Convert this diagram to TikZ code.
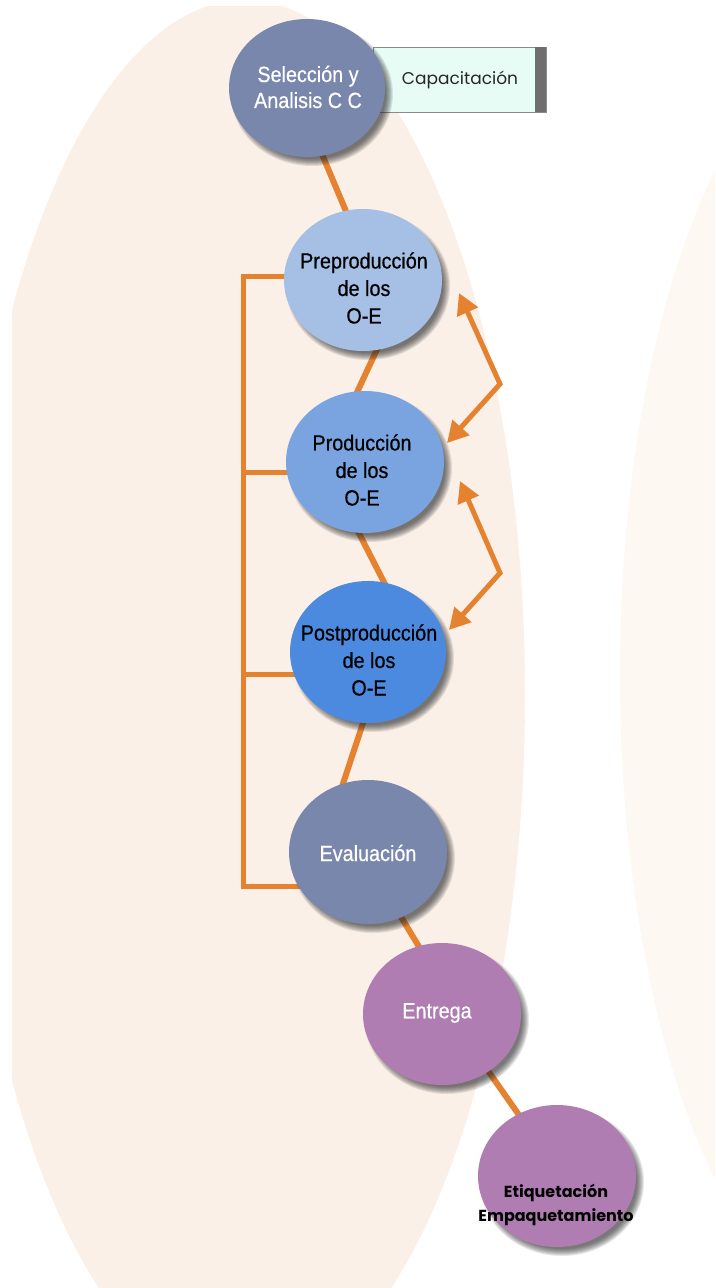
\documentclass[tikz,border=0pt]{standalone}
\usepackage{fontspec}
\setmainfont{Liberation Sans}
\newfontfamily\nodefont[FakeStretch=0.9,FakeBold=0.5]{Liberation Sans}
\newfontfamily\gothic{Poppins}
\usetikzlibrary{shapes.geometric,arrows.meta}
\pgfdeclarelayer{bg}
\pgfdeclarelayer{links}
\pgfdeclarelayer{shade}
\pgfsetlayers{bg,links,shade,main}
\definecolor{peach}{HTML}{FBF0E8}
\definecolor{peachB}{HTML}{FEF8F3}
\definecolor{slate}{HTML}{7A87AD}
\definecolor{preC}{HTML}{A6BFE5}
\definecolor{prodC}{HTML}{79A4E0}
\definecolor{postC}{HTML}{4C8AE0}
\definecolor{purp}{HTML}{AF7DB1}
\definecolor{orng}{HTML}{E5822F}
\definecolor{capfill}{HTML}{E8FCF6}
\definecolor{capline}{HTML}{8A8A8A}
\definecolor{capbar}{HTML}{6E6E6E}
\tikzset{
  bub/.style={ellipse, inner sep=0pt, minimum width=158pt, minimum height=142pt},
  txt/.style={align=center, inner sep=0pt, font=\nodefont\fontsize{22}{27.5}\selectfont},
  link/.style={draw=orng, line width=6pt, shorten <=-8pt, shorten >=-8pt},
  brk/.style={draw=orng, line width=5pt, line join=miter},
  darr/.style={draw=orng, line width=5pt, line join=miter,
    {Triangle[length=21pt,width=22pt]}-{Triangle[length=21pt,width=22pt]}},
  shd/.style={fill=black!85, opacity=0.11}
}
\newcommand\dropsh[3]{%
  \foreach \k in {-4,...,3}{%
    \fill[shd] ([shift={(5pt,-6pt)}]#1.center) ellipse [x radius=#2+\k, y radius=#3+\k];
  }%
}
\begin{document}
\begin{tikzpicture}[x=1pt,y=-1pt]
\useasboundingbox (0,0) rectangle (715,1288);
\begin{pgfonlayer}{bg}
  \fill[white] (0,0) rectangle (715,1288);
  \begin{scope}
    \clip (12,6) rectangle (715,1288);
    \fill[peach] (245,695) ellipse [x radius=280, y radius=695];
  \end{scope}
  \begin{scope}
    \clip (0,0) rectangle (715,1288);
    \fill[peachB] (870,675) ellipse [x radius=250, y radius=643];
  \end{scope}
\end{pgfonlayer}

% ellipses
\node[bub, fill=slate, minimum width=156pt, minimum height=138pt] (sel) at (307,88) {};
\node[bub, fill=preC] (pre) at (363,280) {};
\node[bub, fill=prodC] (prod) at (365,462) {};
\node[bub, fill=postC, minimum width=156pt] (post) at (368,652) {};
\node[bub, fill=slate, minimum height=144pt] (eval) at (368,852) {};
\node[bub, fill=purp] (ent) at (442,1014) {};
\node[bub, fill=purp] (etq) at (557,1176) {};

% texts
\node[txt, text=white, font=\nodefont\fontsize{22}{26}\selectfont] (selT) at (308,87) {Selección y\\Analisis C C};
\node[txt] (preT) at (364,288) {Preproducción\\de los\\O-E};
\node[txt] (prodT) at (362,470) {Producción\\de los\\O-E};
\node[txt] (postT) at (369,660) {Postproducción\\de los\\O-E};
\node[txt, text=white] (evalT) at (368,853) {Evaluación};
\node[txt, text=white] (entT) at (437,1013) {Entrega};
\node[align=center, inner sep=0pt, font=\gothic\bfseries\fontsize{16}{23.5}\selectfont] (etqT) at (556,1205) {Etiquetación\\Empaquetamiento};

% bracket coordinates
\coordinate (bt) at (243,276);
\coordinate (bp) at (243,472);
\coordinate (bq) at (243,674);
\coordinate (bb) at (243,886);
% arrow coordinates
\coordinate (a1) at (459,293);
\coordinate (a2) at (500,384);
\coordinate (a3) at (447,443);
\coordinate (b1) at (460,481);
\coordinate (b2) at (500,573);
\coordinate (b3) at (449,630);

\begin{pgfonlayer}{links}
  % box behind first ellipse
  \node[draw=capline, fill=capfill, minimum width=173pt, minimum height=65pt, inner sep=0pt] (cap) at (459.5,79.5) {};
  \fill[capbar] ([xshift=-11pt]cap.north east) rectangle (cap.south east);
  \node[inner sep=0pt, font=\gothic\fontsize{17}{20}\selectfont, text=black!85] (capT) at (460,80) {Capacitación};
  \draw[link] (sel.-77) -- (pre.104);
  \draw[link] (pre.-79) -- (prod.96);
  \draw[link] (prod.-95) -- (post.77);
  \draw[link] (post.-94) -- (eval.110);
  \draw[link] (eval.-63) -- (ent.109);
  \draw[link] (ent.-51) -- (etq.122);
  \draw[brk] (pre.center |- bt) -- (bt) -- (bb) -- (eval.center |- bb);
  \draw[brk] (bp) -- (prod.center |- bp);
  \draw[brk] (bq) -- (post.center |- bq);
\end{pgfonlayer}

\begin{pgfonlayer}{shade}
  \dropsh{sel}{78}{69}
  \dropsh{pre}{79}{71}
  \dropsh{prod}{79}{71}
  \dropsh{post}{78}{71}
  \dropsh{eval}{79}{72}
  \dropsh{ent}{79}{71}
  \dropsh{etq}{79}{71}
\end{pgfonlayer}

\draw[darr] (a1) -- (a2) -- (a3);
\draw[darr] (b1) -- (b2) -- (b3);
\end{tikzpicture}
\end{document}
